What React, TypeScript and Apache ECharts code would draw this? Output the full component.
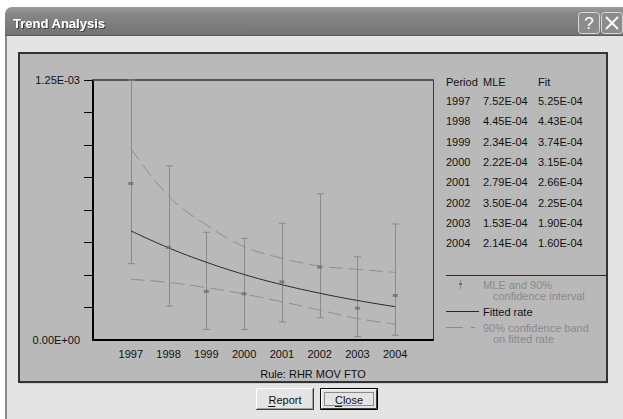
import React, { useEffect, useRef } from "react";
import * as echarts from "echarts";

const years = [1997, 1998, 1999, 2000, 2001, 2002, 2003, 2004];
const mle = [7.52e-4, 4.45e-4, 2.34e-4, 2.22e-4, 2.79e-4, 3.5e-4, 1.53e-4, 2.14e-4];
const fit = [5.25e-4, 4.43e-4, 3.74e-4, 3.15e-4, 2.66e-4, 2.25e-4, 1.9e-4, 1.6e-4];
const ciLow = [3.67e-4, 1.63e-4, 5.1e-5, 5.1e-5, 8.7e-5, 1.07e-4, 1.6e-5, 2.3e-5];
const ciHigh = [1.25e-3, 8.37e-4, 5.18e-4, 4.89e-4, 5.61e-4, 7.03e-4, 4.0e-4, 5.58e-4];
const bandHigh = [9.22e-4, 6.92e-4, 5.53e-4, 4.49e-4, 3.93e-4, 3.56e-4, 3.4e-4, 3.25e-4];
const bandLow = [2.92e-4, 2.77e-4, 2.52e-4, 2.21e-4, 1.84e-4, 1.44e-4, 1.03e-4, 7.7e-5];
const yTickValues = [0.00015625, 0.0003125, 0.00046875, 0.000625, 0.00078125, 0.0009375, 0.00109375, 0.00125];
const yLabelValues = [0, 0.00125];
const tableHeader = ["Period", "MLE", "Fit"];

const FONT = "'Liberation Sans', Arial, sans-serif";

function sci(v: number): string {
  const [m, e] = v.toExponential(2).split("e");
  const sign = e[0] === "-" ? "-" : "+";
  const digits = e.replace(/^[+-]/, "").padStart(2, "0");
  return m + "E" + sign + digits;
}

function txt(text: string, x: number, y: number, opts: any = {}) {
  return {
    type: "text",
    x,
    y,
    z: 10,
    style: {
      text,
      font: opts.font || `11px ${FONT}`,
      fill: opts.fill || "#111",
      textAlign: opts.align || "left",
      textVerticalAlign: "middle",
    },
  };
}

function line(x1: number, y1: number, x2: number, y2: number, stroke: string, lw = 1, dash?: number[], z = 5) {
  return {
    type: "line",
    z,
    shape: { x1, y1, x2, y2 },
    style: { stroke, lineWidth: lw, lineDash: dash },
  };
}

function button(x: number, y: number, w: number, h: number, label: string, ulW: number, isDefault: boolean) {
  const els: any[] = [];
  els.push({ type: "rect", z: 4, shape: { x, y, width: w, height: h }, style: { fill: "#e4e4e4" } });
  if (isDefault) {
    els.push({ type: "rect", z: 5, shape: { x: x + 0.5, y: y + 0.5, width: w - 1, height: h - 1 }, style: { fill: "none", stroke: "#000", lineWidth: 1 } });
    els.push(line(x + 1.5, y + 1.5, x + w - 2, y + 1.5, "#ffffff"));
    els.push(line(x + 1.5, y + 1.5, x + 1.5, y + h - 2, "#ffffff"));
    els.push(line(x + 1.5, y + h - 1.5, x + w - 1.5, y + h - 1.5, "#404040"));
    els.push(line(x + w - 1.5, y + 1.5, x + w - 1.5, y + h - 1.5, "#404040"));
    els.push({ type: "rect", z: 5, shape: { x: x + 4.5, y: y + 4.5, width: w - 9, height: h - 9 }, style: { fill: "none", stroke: "#333", lineWidth: 1, lineDash: [1, 1] } });
  } else {
    els.push(line(x + 0.5, y + 0.5, x + w - 1, y + 0.5, "#ffffff"));
    els.push(line(x + 0.5, y + 0.5, x + 0.5, y + h - 1, "#ffffff"));
    els.push(line(x, y + h - 0.5, x + w, y + h - 0.5, "#404040"));
    els.push(line(x + w - 0.5, y, x + w - 0.5, y + h, "#404040"));
    els.push(line(x + 1, y + h - 1.5, x + w - 1, y + h - 1.5, "#a0a0a0"));
    els.push(line(x + w - 1.5, y + 1, x + w - 1.5, y + h - 1, "#a0a0a0"));
  }
  const cx = x + w / 2;
  const cy = y + h / 2 + 1;
  els.push(txt(label, cx, cy, { align: "center" }));
  const tw = label.length * 5.6;
  els.push(line(cx - tw / 2, cy + 6.5, cx - tw / 2 + ulW, cy + 6.5, "#111", 1, undefined, 11));
  return els;
}

export default function App() {
  const ref = useRef<HTMLDivElement>(null);

  useEffect(() => {
    if (!ref.current) return;
    const chart = echarts.init(ref.current, null, { renderer: "svg", width: 623, height: 419 });

    const graphics: any[] = [];
    // window background
    graphics.push({ type: "rect", z: -20, shape: { x: 0, y: 0, width: 623, height: 419 }, style: { fill: "#ffffff" } });
    graphics.push({ type: "rect", z: -19, shape: { x: 5, y: 30, width: 618, height: 389 }, style: { fill: "#e4e4e4" } });
    graphics.push({ type: "rect", z: -18, shape: { x: 5, y: 36, width: 2, height: 383 }, style: { fill: "#8a8a8a" } });
    // title bar
    graphics.push({
      type: "rect",
      z: -17,
      shape: { x: 5, y: 7, width: 618, height: 29, r: [7, 0, 0, 0] },
      style: {
        fill: new echarts.graphic.LinearGradient(0, 0, 0, 1, [
          { offset: 0, color: "#9a9a9a" },
          { offset: 0.3, color: "#858585" },
          { offset: 1, color: "#727272" },
        ]),
      },
    });
    graphics.push(line(5, 35.5, 623, 35.5, "#5a5a5a", 1, undefined, -16));
    graphics.push({
      type: "text",
      x: 13,
      y: 23,
      z: 10,
      style: {
        text: "Trend Analysis",
        font: `bold 13px 'Liberation Sans', Arial, sans-serif`,
        fill: "#ffffff",
        textAlign: "left",
        textVerticalAlign: "middle",
        textShadowColor: "rgba(0,0,0,0.5)",
        textShadowOffsetX: 1,
        textShadowOffsetY: 1,
        textShadowBlur: 1,
      },
    });
    // title buttons
    graphics.push({ type: "rect", z: 5, shape: { x: 578.5, y: 12.5, width: 21, height: 21, r: 3 }, style: { fill: "#8c8c8c", stroke: "#d8d8d8", lineWidth: 1 } });
    graphics.push({ type: "rect", z: 5, shape: { x: 601.5, y: 12.5, width: 21, height: 21, r: 3 }, style: { fill: "#8c8c8c", stroke: "#d8d8d8", lineWidth: 1 } });
    graphics.push({
      type: "text", x: 589, y: 23.5, z: 10,
      style: { text: "?", font: `17px ${FONT}`, fill: "#ffffff", textAlign: "center", textVerticalAlign: "middle" },
    });
    graphics.push(line(606, 17, 618, 29, "#ffffff", 2, undefined, 10));
    graphics.push(line(618, 17, 606, 29, "#ffffff", 2, undefined, 10));

    // panel
    graphics.push({ type: "rect", z: -10, shape: { x: 19, y: 53, width: 588, height: 329 }, style: { fill: "#b9b9b9", stroke: "#333333", lineWidth: 2 } });
    graphics.push(line(20, 383.5, 608, 383.5, "#cfcfcf", 1, undefined, -9));

    // table
    const colX = [446, 483, 538];
    tableHeader.forEach((h, i) => graphics.push(txt(h, colX[i], 81.5)));
    years.forEach((yr, i) => {
      const y = 101 + i * 20.3;
      graphics.push(txt(String(yr), colX[0], y));
      graphics.push(txt(sci(mle[i]), colX[1], y));
      graphics.push(txt(sci(fit[i]), colX[2], y));
    });

    // legend
    const grey = "#8a8a8a";
    graphics.push(line(446, 275.5, 607, 275.5, "#2a2a2a", 1));
    graphics.push(line(460.5, 280, 460.5, 289, grey, 1));
    graphics.push({ type: "rect", z: 6, shape: { x: 459, y: 283, width: 3, height: 2 }, style: { fill: "#707070" } });
    graphics.push(txt("MLE and 90%", 483, 284.5, { fill: grey }));
    graphics.push(txt("confidence interval", 493, 296, { fill: grey }));
    graphics.push(line(446, 311.5, 479, 311.5, "#2a2a2a", 1));
    graphics.push(txt("Fitted rate", 483, 311.5, { fill: "#111" }));
    graphics.push(line(446, 327.5, 463, 327.5, grey, 1));
    graphics.push(line(471, 327.5, 475, 327.5, grey, 1));
    graphics.push(txt("90% confidence band", 483, 327.5, { fill: grey }));
    graphics.push(txt("on fitted rate", 493, 339, { fill: grey }));

    // x axis title
    graphics.push(txt("Rule: RHR MOV FTO", 313, 374, { align: "center" }));

    // buttons
    graphics.push(...button(256, 388, 58, 22, "Report", 7, false));
    graphics.push(...button(320, 388, 58, 22, "Close", 7, true));

    const errData = years.map((yr, i) => [yr, ciLow[i], ciHigh[i]]);

    const option: any = {
      animation: false,
      backgroundColor: "#ffffff",
      textStyle: { fontFamily: FONT },
      grid: { left: 93, top: 80, width: 340, height: 260, show: false },
      xAxis: [
        {
          type: "value",
          min: 1996,
          max: 2005,
          axisLine: { show: true, lineStyle: { color: "#000", width: 2 } },
          axisTick: { show: false },
          splitLine: { show: false },
          axisLabel: {
            customValues: years,
            formatter: (v: number) => String(v),
            color: "#111",
            fontSize: 11,
            fontFamily: FONT,
            margin: 8,
          },
        },
        {
          type: "value",
          position: "top",
          min: 1996,
          max: 2005,
          axisLine: { show: true, onZero: false, lineStyle: { color: "#555", width: 2 } },
          axisTick: { show: false },
          axisLabel: { show: false },
          splitLine: { show: false },
        },
      ],
      yAxis: [
        {
          type: "value",
          min: 0,
          max: 0.00125,
          interval: 0.00015625,
          axisLine: { show: true, lineStyle: { color: "#000", width: 2 } },
          axisTick: { show: true, length: 9, customValues: yTickValues, lineStyle: { color: "#000", width: 1 } },
          splitLine: { show: false },
          axisLabel: {
            customValues: yLabelValues,
            formatter: (v: number) => sci(v),
            color: "#111",
            fontSize: 11,
            fontFamily: FONT,
            margin: 13,
          },
        },
        {
          type: "value",
          position: "right",
          min: 0,
          max: 0.00125,
          axisLine: { show: true, onZero: false, lineStyle: { color: "#3a3a3a", width: 1 } },
          axisTick: { show: false },
          axisLabel: { show: false },
          splitLine: { show: false },
        },
      ],
      graphic: { elements: graphics },
      series: [
        {
          type: "custom",
          name: "MLE and 90% confidence interval",
          clip: false,
          data: errData,
          encode: { x: 0, y: [1, 2] },
          renderItem: (params: any, api: any) => {
            const x = api.value(0);
            const lo = api.coord([x, api.value(1)]);
            const hi = api.coord([x, api.value(2)]);
            const px = Math.round(lo[0]) + 0.5;
            const st = { stroke: "#8a8a8a", lineWidth: 1 };
            return {
              type: "group",
              children: [
                { type: "line", shape: { x1: px, y1: hi[1], x2: px, y2: lo[1] }, style: st },
                { type: "line", shape: { x1: px - 3.5, y1: hi[1], x2: px + 3.5, y2: hi[1] }, style: st },
                { type: "line", shape: { x1: px - 3.5, y1: lo[1], x2: px + 3.5, y2: lo[1] }, style: st },
              ],
            };
          },
          z: 2,
        },
        {
          type: "line",
          name: "90% upper",
          data: years.map((yr, i) => [yr, bandHigh[i]]),
          smooth: 0.4,
          symbol: "none",
          lineStyle: { color: "#8e8e8e", width: 1, type: [14, 6] },
          z: 3,
        },
        {
          type: "line",
          name: "90% lower",
          data: years.map((yr, i) => [yr, bandLow[i]]),
          smooth: 0.4,
          symbol: "none",
          lineStyle: { color: "#8e8e8e", width: 1, type: [14, 6] },
          z: 3,
        },
        {
          type: "line",
          name: "Fitted rate",
          data: years.map((yr, i) => [yr, fit[i]]),
          smooth: 0.4,
          symbol: "none",
          lineStyle: { color: "#2a2a2a", width: 1 },
          z: 4,
        },
        {
          type: "scatter",
          name: "MLE",
          data: years.map((yr, i) => [yr, mle[i]]),
          symbol: "rect",
          symbolSize: [5, 3],
          itemStyle: { color: "#6e6e6e" },
          z: 5,
        },
      ],
    };

    chart.setOption(option);
    return () => chart.dispose();
  }, []);

  return <div ref={ref} style={{ position: "absolute", left: 0, top: 0, width: 623, height: 419 }} />;
}
